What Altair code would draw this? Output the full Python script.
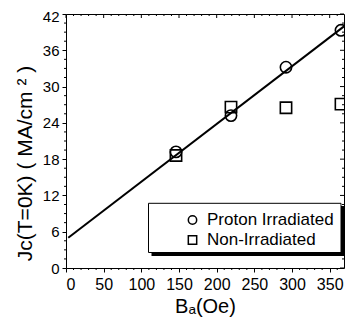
import altair as alt
import pandas as pd

# ---- data ----
B_field = [146, 219, 292, 365]
jc_proton = [19.2, 25.2, 33.2, 39.3]
jc_non = [18.6, 26.6, 26.5, 27.1]
series_names = ["Proton Irradiated", "Non-Irradiated"]
fit_B = [3, 369]
fit_jc = [4.99, 39.96]

x_major = [0, 50, 100, 150, 200, 250, 300, 350]
y_major = [0, 6, 12, 18, 24, 30, 36, 42]
x_minor = [10, 20, 30, 40, 60, 70, 80, 90, 110, 120, 130, 140, 160, 170, 180, 190,
           210, 220, 230, 240, 260, 270, 280, 290, 310, 320, 330, 340, 360]
y_minor = [1.5, 3, 4.5, 7.5, 9, 10.5, 13.5, 15, 16.5, 19.5, 21, 22.5, 25.5, 27, 28.5,
           31.5, 33, 34.5, 37.5, 39, 40.5]

x_title = "Bₐ(Oe)"
y_title = "Jc(T=0K) ( MA/cm ² )"

W, H = 278, 254
FONT = "Liberation Sans"

xs = alt.Scale(domain=[0, 369], nice=False, zero=False)
ys = alt.Scale(domain=[0, 42], nice=False, zero=False)

points_df = pd.DataFrame({
    "B": B_field + B_field,
    "Jc": jc_proton + jc_non,
    "series": [series_names[0]] * len(B_field) + [series_names[1]] * len(B_field),
})
fit_df = pd.DataFrame({"B": fit_B, "Jc": fit_jc})
xmaj_df = pd.DataFrame({"B": x_major})
xmin_df = pd.DataFrame({"B": x_minor})
ymaj_df = pd.DataFrame({"Jc": y_major})
ymin_df = pd.DataFrame({"Jc": y_minor})
one = pd.DataFrame({"k": [0]})

x_axis = alt.Axis(values=x_major, title=x_title, grid=False, domain=False,
                  tickSize=4, tickColor="black", labelColor="black",
                  labelFont=FONT, labelFontSize=16, labelPadding=4,
                  titleFont=FONT, titleFontSize=20, titleFontWeight="normal",
                  titleColor="black", titleBaseline="alphabetic", titleY=44)
y_axis = alt.Axis(values=y_major, title=y_title, grid=False, domain=False,
                  tickSize=4, tickColor="black", labelColor="black",
                  labelFont=FONT, labelFontSize=15, labelPadding=3,
                  labelOffset={"condition": {"test": "datum.value === 42", "value": 2},
                               "value": 0},
                  titleFont=FONT, titleFontSize=21, titleFontWeight="normal",
                  titleColor="black", titleBaseline="alphabetic",
                  titleX=-35, titleY=149)

X = alt.X("B:Q", scale=xs, axis=x_axis)
Y = alt.Y("Jc:Q", scale=ys, axis=y_axis)

fit = alt.Chart(fit_df).mark_line(color="black", strokeWidth=2).encode(x=X, y=Y)

shadow = alt.Chart(one).mark_rect(color="black").encode(
    x=alt.value(85.5), x2=alt.value(278), y=alt.value(192), y2=alt.value(242)
)
box = alt.Chart(one).mark_rect(fill="white", stroke="black", strokeWidth=1).encode(
    x=alt.value(82.5), x2=alt.value(275), y=alt.value(189.3), y2=alt.value(238.5)
)

points = alt.Chart(points_df).mark_point(
    filled=False, size=128, strokeWidth=1.6, color="black", opacity=1
).encode(
    x=X,
    y=Y,
    shape=alt.Shape(
        "series:N",
        scale=alt.Scale(domain=series_names, range=["circle", "square"]),
        legend=alt.Legend(
            title=None, orient="none", legendX=118, legendY=197.5,
            padding=0, symbolOffset=0, symbolSize=70, symbolStrokeWidth=1.5,
            symbolStrokeColor="black", symbolFillColor="transparent",
            labelFont=FONT, labelFontSize=17, labelColor="black",
            labelOffset=6, rowPadding=2,
        ),
    ),
)


def xticks(df, y0, y1):
    return alt.Chart(df).mark_rule(color="black", strokeWidth=1).encode(
        x=X, y=alt.value(y0), y2=alt.value(y1)
    )


def yticks(df, x0, x1):
    return alt.Chart(df).mark_rule(color="black", strokeWidth=1).encode(
        y=Y, x=alt.value(x0), x2=alt.value(x1)
    )


ticks = [
    xticks(xmin_df, H, H + 2),
    xticks(xmaj_df, 0, 4),
    xticks(xmin_df, 0, 2),
    yticks(ymin_df, 0, -2),
    yticks(ymaj_df, W, W - 4),
    yticks(ymin_df, W, W - 2),
]

chart = alt.layer(fit, *ticks, shadow, box, points).properties(
    width=W, height=H,
    autosize=alt.AutoSizeParams(type="none"),
    padding={"left": 58, "top": 6, "right": 1, "bottom": 50},
    background="white",
).configure_view(stroke="black", strokeWidth=1)

chart.save("out.html", embed_options={"renderer": "svg", "actions": False})
